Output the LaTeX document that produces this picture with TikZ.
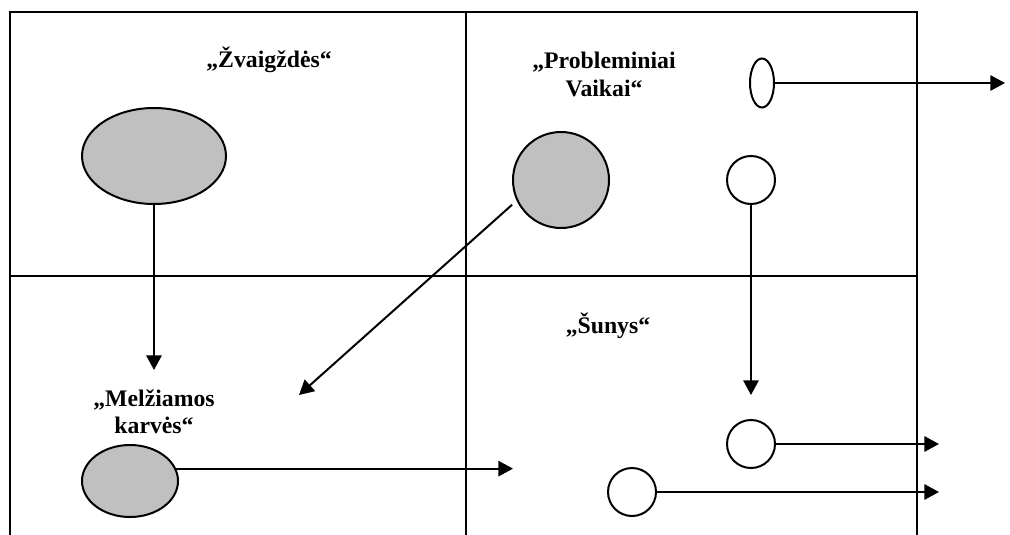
\documentclass[tikz,border=0pt]{standalone}
\usepackage{fontspec}
\setmainfont{Liberation Serif}
\usetikzlibrary{shapes.geometric,arrows.meta}
\definecolor{shade}{HTML}{C0C0C0}
\begin{document}
\begin{tikzpicture}[x=0.75pt,y=-0.75pt,
  frame/.style={line width=1.5pt},
  conn/.style={line width=1.5pt,-{Triangle[length=11pt,width=11.5pt]}},
  grayell/.style={ellipse,draw,line width=1.5pt,fill=shade,inner sep=0pt},
  whiteell/.style={ellipse,draw,line width=1.5pt,fill=white,inner sep=0pt},
  graycirc/.style={circle,draw,line width=1.5pt,fill=shade,inner sep=0pt},
  whitecirc/.style={circle,draw,line width=1.5pt,fill=white,inner sep=0pt,minimum size=36pt},
  lbl/.style={font=\fontsize{17.8pt}{20.6pt}\selectfont\bfseries,align=center,inner sep=0pt}]
\useasboundingbox (0,0) rectangle (1010,535);
% frame
\draw[frame] (10,535) -- (10,12) -- (917,12) -- (917,535);
\draw[frame] (466,12) -- (466,535);
\draw[frame] (10,276) -- (917,276);
% shapes
\node[grayell,minimum width=108pt,minimum height=72pt] (zv) at (154,156) {};
\node[graycirc,minimum size=72pt] (gc) at (561,180) {};
\node[whiteell,minimum width=18pt,minimum height=36.75pt] (se) at (762,83) {};
\node[whitecirc] (wc) at (751,180) {};
\node[whitecirc] (c2) at (751,444) {};
\node[whitecirc] (c3) at (632,492) {};
\node[grayell,minimum width=72pt,minimum height=54pt] (ml) at (130,481) {};
% labels
\node[lbl,anchor=base] (tz) at (269,68) {„Žvaigždės“};
\node[lbl,anchor=north] (tpv) at (604,52) {„Probleminiai\\Vaikai“};
\node[lbl,anchor=base] (tsu) at (608,333) {„Šunys“};
\node[lbl,anchor=north] (tmk) at (154,389) {„Melžiamos\\karvės“};
% arrow ends
\coordinate (eZ) at (154,370);
\coordinate (eW) at (751,395);
\coordinate (eD) at (299,395);
\coordinate (e0) at (1005,83);
\coordinate (e1) at (513,468);
\coordinate (e2) at (939,444);
\coordinate (e3) at (939,492);
% connectors
\draw[conn] (zv.south) -- (eZ);
\draw[conn,shorten <=4.5pt] (gc.205) -- (eD);
\draw[conn] (se.east) -- (e0);
\draw[conn] (wc.south) -- (eW);
\draw[conn] (c2.east) -- (e2);
\draw[conn] (c3.east) -- (e3);
\draw[conn] (ml.15) -- (ml.15 -| e1);
\end{tikzpicture}
\end{document}
